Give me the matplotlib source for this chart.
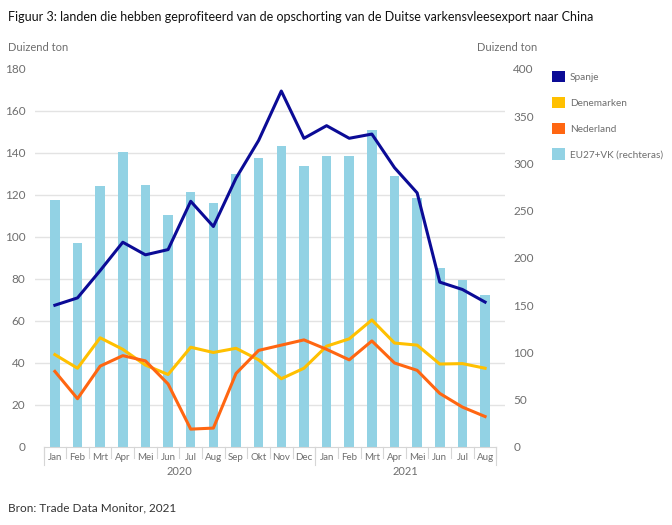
import matplotlib
matplotlib.use("Agg")
import matplotlib.pyplot as plt
import matplotlib.transforms as mtransforms
from matplotlib.patches import Patch
import numpy as np

plt.rcParams["font.family"] = ["Lato", "DejaVu Sans"]

months = ["Jan", "Feb", "Mrt", "Apr", "Mei", "Jun", "Jul", "Aug", "Sep", "Okt", "Nov", "Dec",
          "Jan", "Feb", "Mrt", "Apr", "Mei", "Jun", "Jul", "Aug"]
years = ["2020", "2021"]
year_counts = [12, 8]

spanje = [67.5, 71, 84, 97.5, 91.5, 94, 117, 105, 128, 146, 169.5, 147,
          153, 147, 149, 133, 121, 78.5, 75, 69]
denemarken = [44, 37.5, 52, 46.5, 39, 34.5, 47.5, 45, 47, 41.5, 32.5, 37.5,
              48, 51.5, 60.5, 49.5, 48.5, 39.5, 39.7, 37.5]
nederland = [36, 23, 38.5, 43.5, 41, 30, 8.5, 9, 35, 46, 48.5, 51,
             46.5, 41.5, 50.5, 40, 36.5, 25.5, 19, 14.5]
eu_vk = [261, 216, 276, 312, 277, 246, 270, 258, 289, 306, 318, 297,
         308, 308, 335, 287, 263, 189, 177, 161]

c_sp = "#0b0b96"
c_dk = "#ffc000"
c_nl = "#ff6611"
c_eu = "#92d2e4"
grey = "#6e6e6e"

fig = plt.figure(figsize=(6.72, 5.25), dpi=100)
ax = fig.add_axes([0.052, 0.1486, 0.6995, 0.72])
x = np.arange(len(months))

ax.bar(x, eu_vk, width=0.42, color=c_eu, zorder=2)
ax.set_ylim(0, 400)
ax.set_xlim(-0.88, 19.88)
ax.set_yticks(np.arange(0, 401, 50))
ax.set_yticks(np.linspace(0, 400, 10), minor=True)
ax.yaxis.grid(True, which="minor", color="#e3e3e3", linewidth=1.0, zorder=0)
ax.set_axisbelow(True)
for s in ["top", "left", "right"]:
    ax.spines[s].set_visible(False)
ax.spines["bottom"].set_bounds(-0.5, 19.5)
ax.spines["bottom"].set_color("#d6d6d6")
ax.set_xticks(x)
ax.set_xticklabels(months)
ax.tick_params(axis="x", length=0, labelsize=7, labelcolor=grey, pad=4)

ax2 = ax.twinx()
ax2.plot(x, spanje, color=c_sp, linewidth=2.2)
ax2.plot(x, denemarken, color=c_dk, linewidth=2.2)
ax2.plot(x, nederland, color=c_nl, linewidth=2.2)
ax2.set_ylim(0, 180)
ax2.set_yticks(np.arange(0, 181, 20))
ax2.yaxis.tick_left()
ax2.tick_params(axis="y", length=0, labelsize=8.5, labelcolor=grey, pad=7)
for s in ax2.spines.values():
    s.set_visible(False)

ax.yaxis.tick_right()
ax.tick_params(axis="y", which="both", length=0, labelsize=8.5, labelcolor=grey, pad=6,
               left=False, labelleft=False, right=False, labelright=True)

# category separators
trans = mtransforms.blended_transform_factory(ax.transData, ax.transAxes)
for i in range(len(months) + 1):
    xp = i - 0.5
    ax.plot([xp, xp], [0, -0.028], transform=trans, color="#d6d6d6", linewidth=0.8, clip_on=False)
start = -0.5
for yr, n in zip(years, year_counts):
    ax.plot([start, start], [0, -0.048], transform=trans, color="#d6d6d6", linewidth=0.8, clip_on=False)
    ax.text(start + n / 2, -0.05, yr, transform=trans, ha="center", va="top", fontsize=8, color=grey)
    start += n
ax.plot([start, start], [0, -0.048], transform=trans, color="#d6d6d6", linewidth=0.8, clip_on=False)

fig.text(0.012, 0.967, "Figuur 3: landen die hebben geprofiteerd van de opschorting van de Duitse varkensvleesexport naar China",
         fontsize=9, color="#111111", va="center")
fig.text(0.012, 0.91, "Duizend ton", fontsize=8, color=grey, va="center")
fig.text(0.80, 0.91, "Duizend ton", fontsize=8, color=grey, va="center", ha="right")
fig.text(0.012, 0.032, "Bron: Trade Data Monitor, 2021", fontsize=8.5, color="#333333", va="center")

handles = [Patch(facecolor=c_sp, label="Spanje"),
           Patch(facecolor=c_dk, label="Denemarken"),
           Patch(facecolor=c_nl, label="Nederland"),
           Patch(facecolor=c_eu, label="EU27+VK (rechteras)")]
fig.legend(handles=handles, loc="upper left", bbox_to_anchor=(0.815, 0.872), frameon=False,
           fontsize=7.2, labelcolor=grey, handlelength=1.35, handleheight=1.35,
           handletextpad=0.45, labelspacing=1.45, borderaxespad=0)

fig.savefig("out.png", dpi=100)
